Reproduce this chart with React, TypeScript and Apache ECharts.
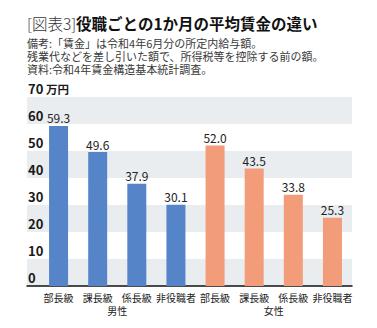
import React, { useEffect, useRef } from "react";
import * as echarts from "echarts";

const categories = ["部長級", "課長級", "係長級", "非役職者", "部長級", "課長級", "係長級", "非役職者"];
const groups = ["男性", "女性"];
const maleValues = [59.3, 49.6, 37.9, 30.1];
const femaleValues = [52.0, 43.5, 33.8, 25.3];
const yTicks = [0, 10, 20, 30, 40, 50, 60, 70];
const titleTag = "[図表3]";
const titleMain = "役職ごとの1か月の平均賃金の違い";
const notes = [
  "備考:「賃金」は令和4年6月分の所定内給与額。",
  "残業代などを差し引いた額で、所得税等を控除する前の額。",
  "資料:令和4年賃金構造基本統計調査。",
];

const FONT = '"Noto Sans CJK JP", "Noto Sans", sans-serif';
const BLUE = "#5585c8";
const ORANGE = "#f29c7a";

export default function App() {
  const ref = useRef<HTMLDivElement>(null);
  useEffect(() => {
    if (!ref.current) return;
    const chart = echarts.init(ref.current, undefined, { renderer: "svg" });
    const barData = [
      ...maleValues.map((v) => ({ value: v, itemStyle: { color: BLUE } })),
      ...femaleValues.map((v) => ({ value: v, itemStyle: { color: ORANGE } })),
    ];
    const yMax = yTicks[yTicks.length - 1];
    chart.setOption({
      animation: false,
      backgroundColor: "#fff",
      textStyle: { fontFamily: FONT },
      title: {
        left: 27,
        top: 14,
        padding: 0,
        text: `{a|${titleTag}}{b|${titleMain}}`,
        textStyle: {
          rich: {
            a: { fontSize: 15.5, fontWeight: 300, color: "#333", fontFamily: FONT, lineHeight: 18 },
            b: { fontSize: 15.5, fontWeight: "bold", color: "#111", fontFamily: FONT, lineHeight: 18 },
          },
        },
      },
      graphic: notes.map((t, i) => ({
        type: "text",
        x: 27,
        y: 42.5 + i * 13.3,
        style: {
          text: t,
          font: `11px ${FONT}`,
          lineHeight: 12,
          fill: "#3a3a3a",
          verticalAlign: "middle",
        },
      })),
      grid: [
        { left: 27, right: 25, top: 97, bottom: 42 },
        { left: 39, right: 25, top: 97, bottom: 42 },
      ],
      xAxis: [
        {
          type: "category",
          gridIndex: 0,
          data: [""],
          axisLine: { show: true, lineStyle: { color: "#111", width: 1.5 } },
          axisTick: { show: false },
          axisLabel: { show: false },
        },
        {
          type: "category",
          gridIndex: 1,
          data: categories,
          axisLine: { show: false },
          axisTick: { show: false },
          axisLabel: { interval: 0, fontSize: 10, color: "#222", margin: 6, fontFamily: FONT },
        },
        {
          type: "category",
          gridIndex: 1,
          data: groups,
          position: "bottom",
          offset: 13,
          axisLine: { show: false },
          axisTick: { show: false },
          axisLabel: { interval: 0, fontSize: 10, color: "#222", margin: 6, fontFamily: FONT },
        },
      ],
      yAxis: [
        {
          type: "value",
          gridIndex: 0,
          min: 0,
          max: yMax,
          interval: 10,
          axisLine: { show: false },
          axisTick: { show: false },
          splitLine: { show: false },
          splitArea: { show: true, areaStyle: { color: ["#eaedf0", "#ffffff"] } },
          axisLabel: {
            inside: true,
            margin: 1,
            verticalAlign: "bottom",
            color: "#1a1a1a",
            formatter: (v: number) => (v === yMax ? `{n|${v}} {u|万円}` : `{n|${v}}`),
            rich: {
              n: { fontSize: 13, fontWeight: "bold", color: "#1a1a1a", fontFamily: FONT, padding: [0, 0, 2, 0] },
              u: { fontSize: 11.5, fontWeight: "bold", color: "#1a1a1a", fontFamily: FONT, padding: [0, 0, 2, 0] },
            },
          },
        },
        {
          type: "value",
          gridIndex: 1,
          min: 0,
          max: yMax,
          interval: 10,
          show: false,
          splitLine: { show: false },
        },
      ],
      series: [
        {
          type: "bar",
          xAxisIndex: 1,
          yAxisIndex: 1,
          barWidth: 19,
          data: barData,
          label: {
            show: true,
            position: "top",
            distance: 2,
            fontSize: 12,
            color: "#222",
            fontFamily: FONT,
            formatter: (p: any) => Number(p.value).toFixed(1),
          },
        },
      ],
    });
    return () => chart.dispose();
  }, []);
  return (
    <div
      ref={ref}
      style={{ position: "absolute", left: 0, top: 0, width: 377, height: 328 }}
    />
  );
}
